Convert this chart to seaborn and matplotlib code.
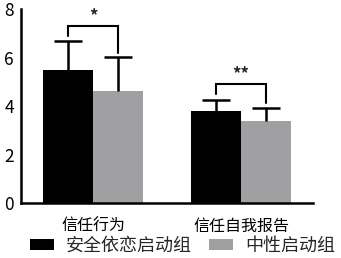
import matplotlib
matplotlib.use("Agg")
import matplotlib.pyplot as plt
import seaborn as sns
import pandas as pd
import numpy as np
from matplotlib.patches import Patch

categories = ["信任行为", "信任自我报告"]
groups = ["安全依恋启动组", "中性启动组"]
secure_mean = [5.48, 3.80]
secure_sd = [1.20, 0.45]
neutral_mean = [4.62, 3.40]
neutral_sd = [1.40, 0.52]
sig_labels = ["*", "**"]
bracket_top = [7.3, 4.92]
bracket_legs = [(6.9, 6.2), (4.5, 4.12)]

sns.set_style("white")
plt.rcParams['font.family'] = ['Noto Sans CJK SC', 'DejaVu Sans']

df = pd.DataFrame({
    "cat": categories * 2,
    "group": [groups[0]] * 2 + [groups[1]] * 2,
    "val": secure_mean + neutral_mean,
    "sd": secure_sd + neutral_sd,
})

fig = plt.figure(figsize=(3.41, 2.58), dpi=100)
ax = fig.add_axes([0.0616, 0.213, 0.856, 0.752])
palette = {groups[0]: "#000000", groups[1]: "#a0a0a3"}
sns.barplot(data=df, x="cat", y="val", hue="group", order=categories,
            hue_order=groups, palette=palette, width=0.676, errorbar=None,
            ax=ax, saturation=1, linewidth=0, legend=False)

# error bars (upper only)
xs, ys = [], []
for p in ax.patches[:4]:
    xs.append(p.get_x() + p.get_width() / 2)
    ys.append(p.get_height())
sds = secure_sd + neutral_sd
eb = ax.errorbar(xs, ys, yerr=[np.zeros(4), sds], fmt="none", ecolor="black",
                 elinewidth=1.8, capsize=10, capthick=1.8, zorder=3)
eb[1][0].set_visible(False)

# significance brackets
for j in range(2):
    x1 = xs[j]
    x2 = xs[j + 2]
    top = bracket_top[j]
    l1, l2 = bracket_legs[j]
    ax.plot([x1, x1, x2, x2], [l1, top, top, l2], color="black", lw=1.5,
            solid_joinstyle="miter")
    ax.text((x1 + x2) / 2, top + 0.02, sig_labels[j], ha="center",
            va="bottom", fontsize=12, fontweight="bold")

ax.set_ylim(0, 8)
ax.set_xlim(-0.486, 1.486)
ax.set_yticks([0, 2, 4, 6, 8])
ax.set_xlabel("")
ax.set_ylabel("")
sns.despine(ax=ax)
for s in ["left", "bottom"]:
    ax.spines[s].set_linewidth(1.8)
    ax.spines[s].set_color("black")
ax.tick_params(axis="both", direction="out", length=4, width=1.5,
               colors="black", pad=1)
ax.tick_params(axis="y", labelsize=12.5)
ax.tick_params(axis="x", labelsize=11.5, pad=7)

handles = [Patch(facecolor=palette[g], edgecolor="none") for g in groups]
fig.legend(handles, groups, loc="lower center", bbox_to_anchor=(0.535, -0.05),
           ncol=2, frameon=False, fontsize=13, handlelength=1.35,
           handleheight=0.6, handletextpad=0.65, columnspacing=0.95)

fig.savefig("out.png", dpi=100)
